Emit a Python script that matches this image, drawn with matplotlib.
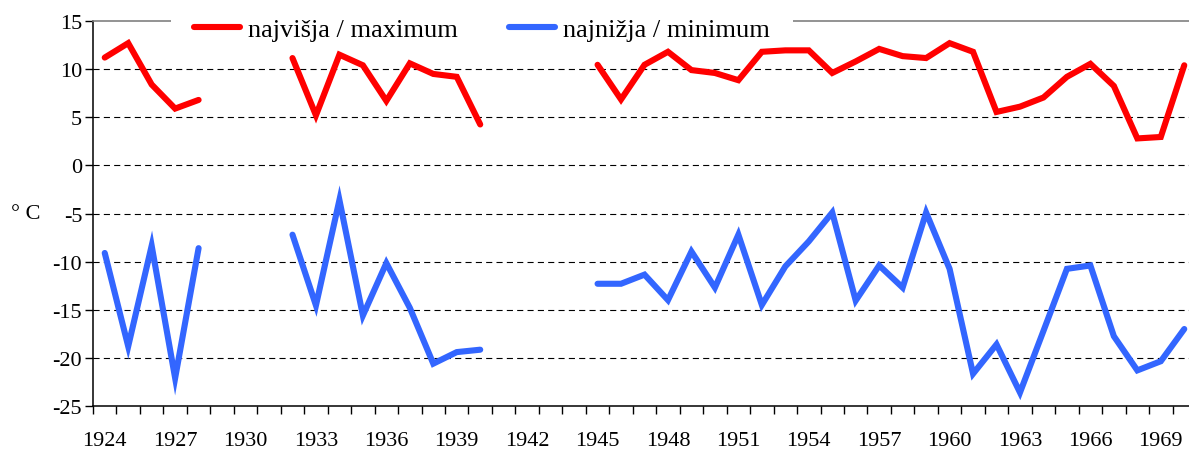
import numpy as np
import matplotlib.pyplot as plt
from matplotlib.ticker import FixedLocator

years = list(range(1924, 1971))
nan = np.nan

# yearly highest temperature (deg C), gaps where no data
t_max = [11.2, 12.7, 8.4, 5.9, 6.8, nan, nan, nan,
         11.15, 5.2, 11.5, 10.4, 6.7, 10.6, 9.5, 9.2, 4.25,
         nan, nan, nan, nan,
         10.45, 6.85, 10.45, 11.8, 9.9, 9.6, 8.85, 11.8, 11.95, 11.95,
         9.6, 10.8, 12.1, 11.35, 11.15, 12.7, 11.8, 5.55, 6.1, 7.05,
         9.2, 10.55, 8.25, 2.8, 2.95, 10.4]

# yearly lowest temperature (deg C)
t_min = [-9.1, -18.8, -8.35, -22.1, -8.6, nan, nan, nan,
         -7.2, -14.55, -3.6, -15.6, -10.15, -14.8, -20.6, -19.4, -19.15,
         nan, nan, nan, nan,
         -12.3, -12.3, -11.35, -14.0, -8.95, -12.7, -7.2, -14.5, -10.5, -7.9,
         -4.9, -14.05, -10.4, -12.7, -4.9, -10.75, -21.65, -18.6, -23.6, -17.2,
         -10.75, -10.4, -17.75, -21.3, -20.35, -17.0]

label_max = "najvišja / maximum"
label_min = "najnižja / minimum"
yticks = [-25, -20, -15, -10, -5, 0, 5, 10, 15]
xlabels = list(range(1924, 1971, 3))

plt.rcParams['font.family'] = ['Liberation Serif', 'DejaVu Serif']

fig = plt.figure(figsize=(11.89, 4.52), dpi=100)
ax = fig.add_axes([93 / 1189, 1 - 407 / 452, 1103 / 1189, 385 / 452])

ax.plot(years, t_max, color='#ff0000', lw=4.4, solid_capstyle='round',
        solid_joinstyle='miter', label=label_max, zorder=6)
ax.plot(years, t_min, color='#3366ff', lw=4.4, solid_capstyle='round',
        solid_joinstyle='miter', label=label_min, zorder=6)

# dashed gridlines
for v in yticks[1:-1]:
    ax.axhline(v, color='black', lw=0.8, dashes=(5.5, 3.8), zorder=2)

ax.set_xlim(1923.5, 1970.5)
ax.set_ylim(-25, 15)
ax.set_yticks(yticks)
ax.set_yticklabels([str(v) for v in yticks], fontsize=16)
ax.tick_params(axis='y', length=5.8, width=1, pad=2, direction='out')

ax.xaxis.set_major_locator(FixedLocator(xlabels))
ax.set_xticklabels([str(v) for v in xlabels], fontsize=16)
ax.xaxis.set_minor_locator(FixedLocator(np.arange(1923.5, 1971, 1)))
ax.tick_params(axis='x', which='major', length=0, pad=18)
ax.tick_params(axis='x', which='minor', length=5.8, width=1, direction='out')

for s in ['left', 'bottom']:
    ax.spines[s].set_color('black')
    ax.spines[s].set_linewidth(1.1)
ax.spines['top'].set_color('#808080')
ax.spines['top'].set_linewidth(1.2)
ax.spines['right'].set_visible(False)

ax.set_ylabel("° C", fontsize=16, rotation=0, va='center')
ax.yaxis.set_label_coords(-0.061, 0.5)

leg = ax.legend(loc='center', bbox_to_anchor=(482 / 1189, 1 - 30 / 452),
                bbox_transform=fig.transFigure, ncol=2, fontsize=19,
                frameon=True, fancybox=False, edgecolor='none',
                facecolor='white', framealpha=1, borderpad=0.86,
                handlelength=1.75, handletextpad=0.3, columnspacing=1.95)
leg.set_zorder(5)

fig.savefig('out.png', dpi=100)
